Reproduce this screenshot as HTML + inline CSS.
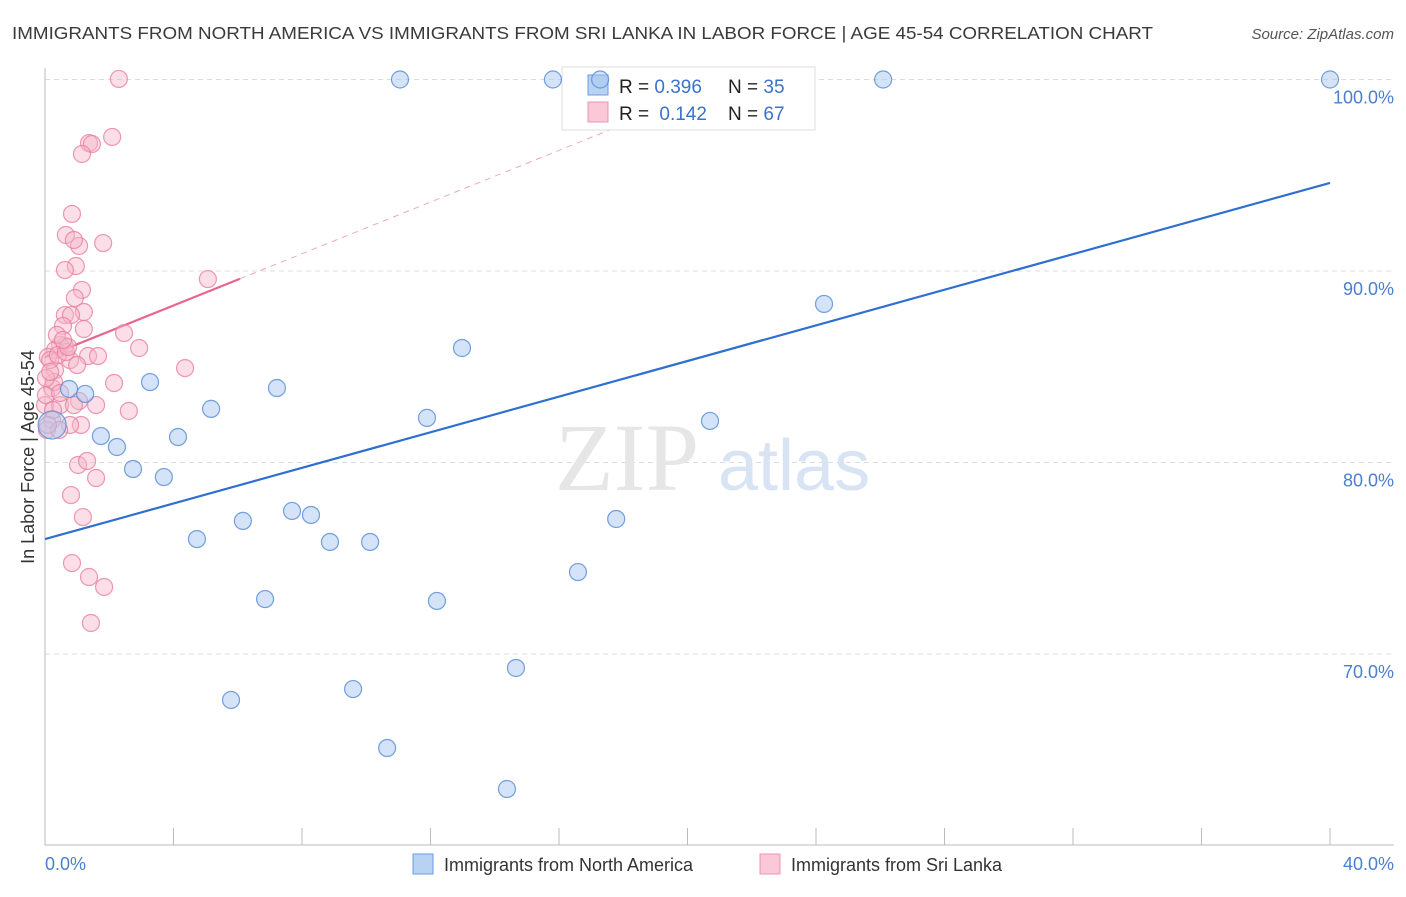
<!DOCTYPE html>
<html><head><meta charset="utf-8"><style>
body{margin:0;background:#fff;font-family:"Liberation Sans",sans-serif;}
svg text{font-family:"Liberation Sans",sans-serif;}
</style></head><body>
<svg id="chart" width="1406" height="892" xmlns="http://www.w3.org/2000/svg">
<text x="12" y="39" font-size="17.5" fill="#3a3a3a" textLength="1141" lengthAdjust="spacingAndGlyphs">IMMIGRANTS FROM NORTH AMERICA VS IMMIGRANTS FROM SRI LANKA IN LABOR FORCE | AGE 45-54 CORRELATION CHART</text>
<text x="1394" y="39" font-size="15" fill="#555" font-style="italic" text-anchor="end">Source: ZipAtlas.com</text>
<g id="grid"></g>
<text x="555" y="490" font-size="96" fill="#e6e6e6" style="font-family:'Liberation Serif',serif">ZIP</text>
<text x="718" y="490" font-size="72" fill="#d8e4f4">atlas</text>
<g id="lines"></g>
<g>
<rect x="562" y="67" width="253" height="63" fill="#fff" stroke="#ddd"/>
<rect x="588" y="75" width="20" height="20" fill="#b8d2f4" stroke="#6d9be0"/>
<rect x="588" y="102" width="20" height="20" fill="#fac8d6" stroke="#eb96b0"/>
<text x="619" y="93" font-size="19" fill="#222">R = <tspan fill="#3a72cc">0.396</tspan><tspan x="728">N = </tspan><tspan fill="#3a72cc">35</tspan></text>
<text x="619" y="120" font-size="19" fill="#222">R = <tspan fill="#3a72cc" dx="5">0.142</tspan><tspan x="728">N = </tspan><tspan fill="#3a72cc">67</tspan></text>
</g>
<g id="pts"></g>
<text transform="translate(34,457) rotate(-90)" font-size="18" fill="#333" text-anchor="middle">In Labor Force | Age 45-54</text>
<text x="45" y="870" font-size="18" fill="#4a7fd0">0.0%</text>
<text x="1394" y="870" font-size="18" fill="#4a7fd0" text-anchor="end">40.0%</text>
<g>
<rect x="413" y="854" width="20" height="20" fill="#b8d2f4" stroke="#6d9be0"/>
<text x="444" y="871" font-size="18" fill="#333">Immigrants from North America</text>
<rect x="760" y="854" width="20" height="20" fill="#fac8d6" stroke="#eb96b0"/>
<text x="791" y="871" font-size="18" fill="#333">Immigrants from Sri Lanka</text>
</g>
</svg>
<script>
const blueX=[11.05,15.81,17.28,26.09,40,24.25,12.98,3.27,7.22,0.75,1.25,5.17,11.89,20.70,1.74,4.14,2.24,2.74,3.70,7.69,8.28,6.16,17.78,4.73,8.87,10.12,16.59,6.85,12.20,14.66,5.79,9.59,10.65,14.38,0.22];
const blueY=[100,100,100,100,100,88.28,85.98,84.20,83.89,83.84,83.58,82.80,82.33,82.17,81.38,81.33,80.81,79.66,79.24,77.47,77.26,76.95,77.05,76.0,75.85,75.85,74.28,72.87,72.77,69.27,67.6,68.17,65.09,62.95,81.96];
const pinkPx=[[119,79],[112,137],[89,143],[92,144],[82,154],[72,214],[103,243],[79,246],[66,235],[74,240],[76,266],[65,270],[82,290],[75,298],[208,279],[84,312],[65,315],[71,315],[84,329],[63,326],[124,333],[139,348],[65,346],[60,345],[55,350],[88,356],[48,357],[70,360],[77,365],[55,370],[114,383],[185,368],[52,388],[54,382],[79,401],[96,405],[45,405],[60,405],[129,411],[81,425],[52,420],[70,425],[47,430],[59,430],[78,465],[87,461],[96,478],[71,495],[83,517],[72,563],[89,577],[104,587],[91,623],[50,360],[58,355],[66,352],[98,356],[46,395],[53,410],[68,347],[46,378],[50,372],[57,335],[63,340],[74,405],[60,393],[48,425]];
const pinkX=pinkPx.map(p=>+((p[0]-45)*40/1285).toFixed(2));
const pinkY=pinkPx.map(p=>+(100-(p[1]-79.5)/19.15).toFixed(2));
const yTicks=[100,90,80,70];
const yTickLabels=["100.0%","90.0%","80.0%","70.0%"];
const blueTrend=[76.0,94.6];
const pinkTrend=[85.5,0.675];
const NS="http://www.w3.org/2000/svg";
const sx=v=>45+v*1285/40, sy=v=>79.5+(100-v)*19.15;
function mk(tag,at,parent){const e=document.createElementNS(NS,tag);for(const k in at)e.setAttribute(k,at[k]);parent.appendChild(e);return e;}
const g=document.getElementById('grid');
yTicks.forEach((t,i)=>{
 const l=mk('line',{x1:45,x2:1394,y1:sy(t),y2:sy(t),stroke:'#d8dde4','stroke-dasharray':'5,4'},g);
 
 
 const tx=mk('text',{x:1394,y:sy(t)+24,'font-size':18,fill:'#4a7fd0','text-anchor':'end'},g);
 tx.textContent=yTickLabels[i];
 
 
});
const ax=mk('line',{x1:45,x2:45,y1:68,y2:845,stroke:'#bbb'},g);


const bx=mk('line',{x1:45,x2:1394,y1:845,y2:845,stroke:'#bbb'},g);


for(let i=0;i<=10;i++){const t=mk('line',{x1:sx(i*4),x2:sx(i*4),y1:828,y2:845,stroke:'#bbb'},g);
 
 }
const L=document.getElementById('lines');
const bl=mk('line',{x1:sx(0),y1:sy(blueTrend[0]),x2:sx(40),y2:sy(blueTrend[1]),stroke:'#2f6fd0','stroke-width':2.2},L);


const pEnd=(100-pinkTrend[0])/pinkTrend[1];
const pd=mk('line',{x1:sx(6.07),y1:sy(pinkTrend[0]+6.07*pinkTrend[1]),x2:sx(pEnd),y2:sy(100),stroke:'#f0a8bd','stroke-width':1,'stroke-dasharray':'6,5'},L);


const pl=mk('line',{x1:sx(0),y1:sy(pinkTrend[0]),x2:sx(6.07),y2:sy(pinkTrend[0]+6.07*pinkTrend[1]),stroke:'#e8668e','stroke-width':2.2},L);


const P=document.getElementById('pts');
pinkX.forEach((x,i)=>{const c=mk('circle',{cx:sx(x),cy:sy(pinkY[i]),r:8.5,fill:'#f7b6ca','fill-opacity':0.45,stroke:'#e8809f','stroke-opacity':0.8,'stroke-width':1.2},P);
 
 });
blueX.forEach((x,i)=>{const c=mk('circle',{cx:sx(x),cy:sy(blueY[i]),r:(i===34?14:8.5),fill:'#a9c8f0','fill-opacity':0.5,stroke:'#5a8fd8','stroke-opacity':0.85,'stroke-width':1.2},P);
 
 });
</script>
</body></html>
